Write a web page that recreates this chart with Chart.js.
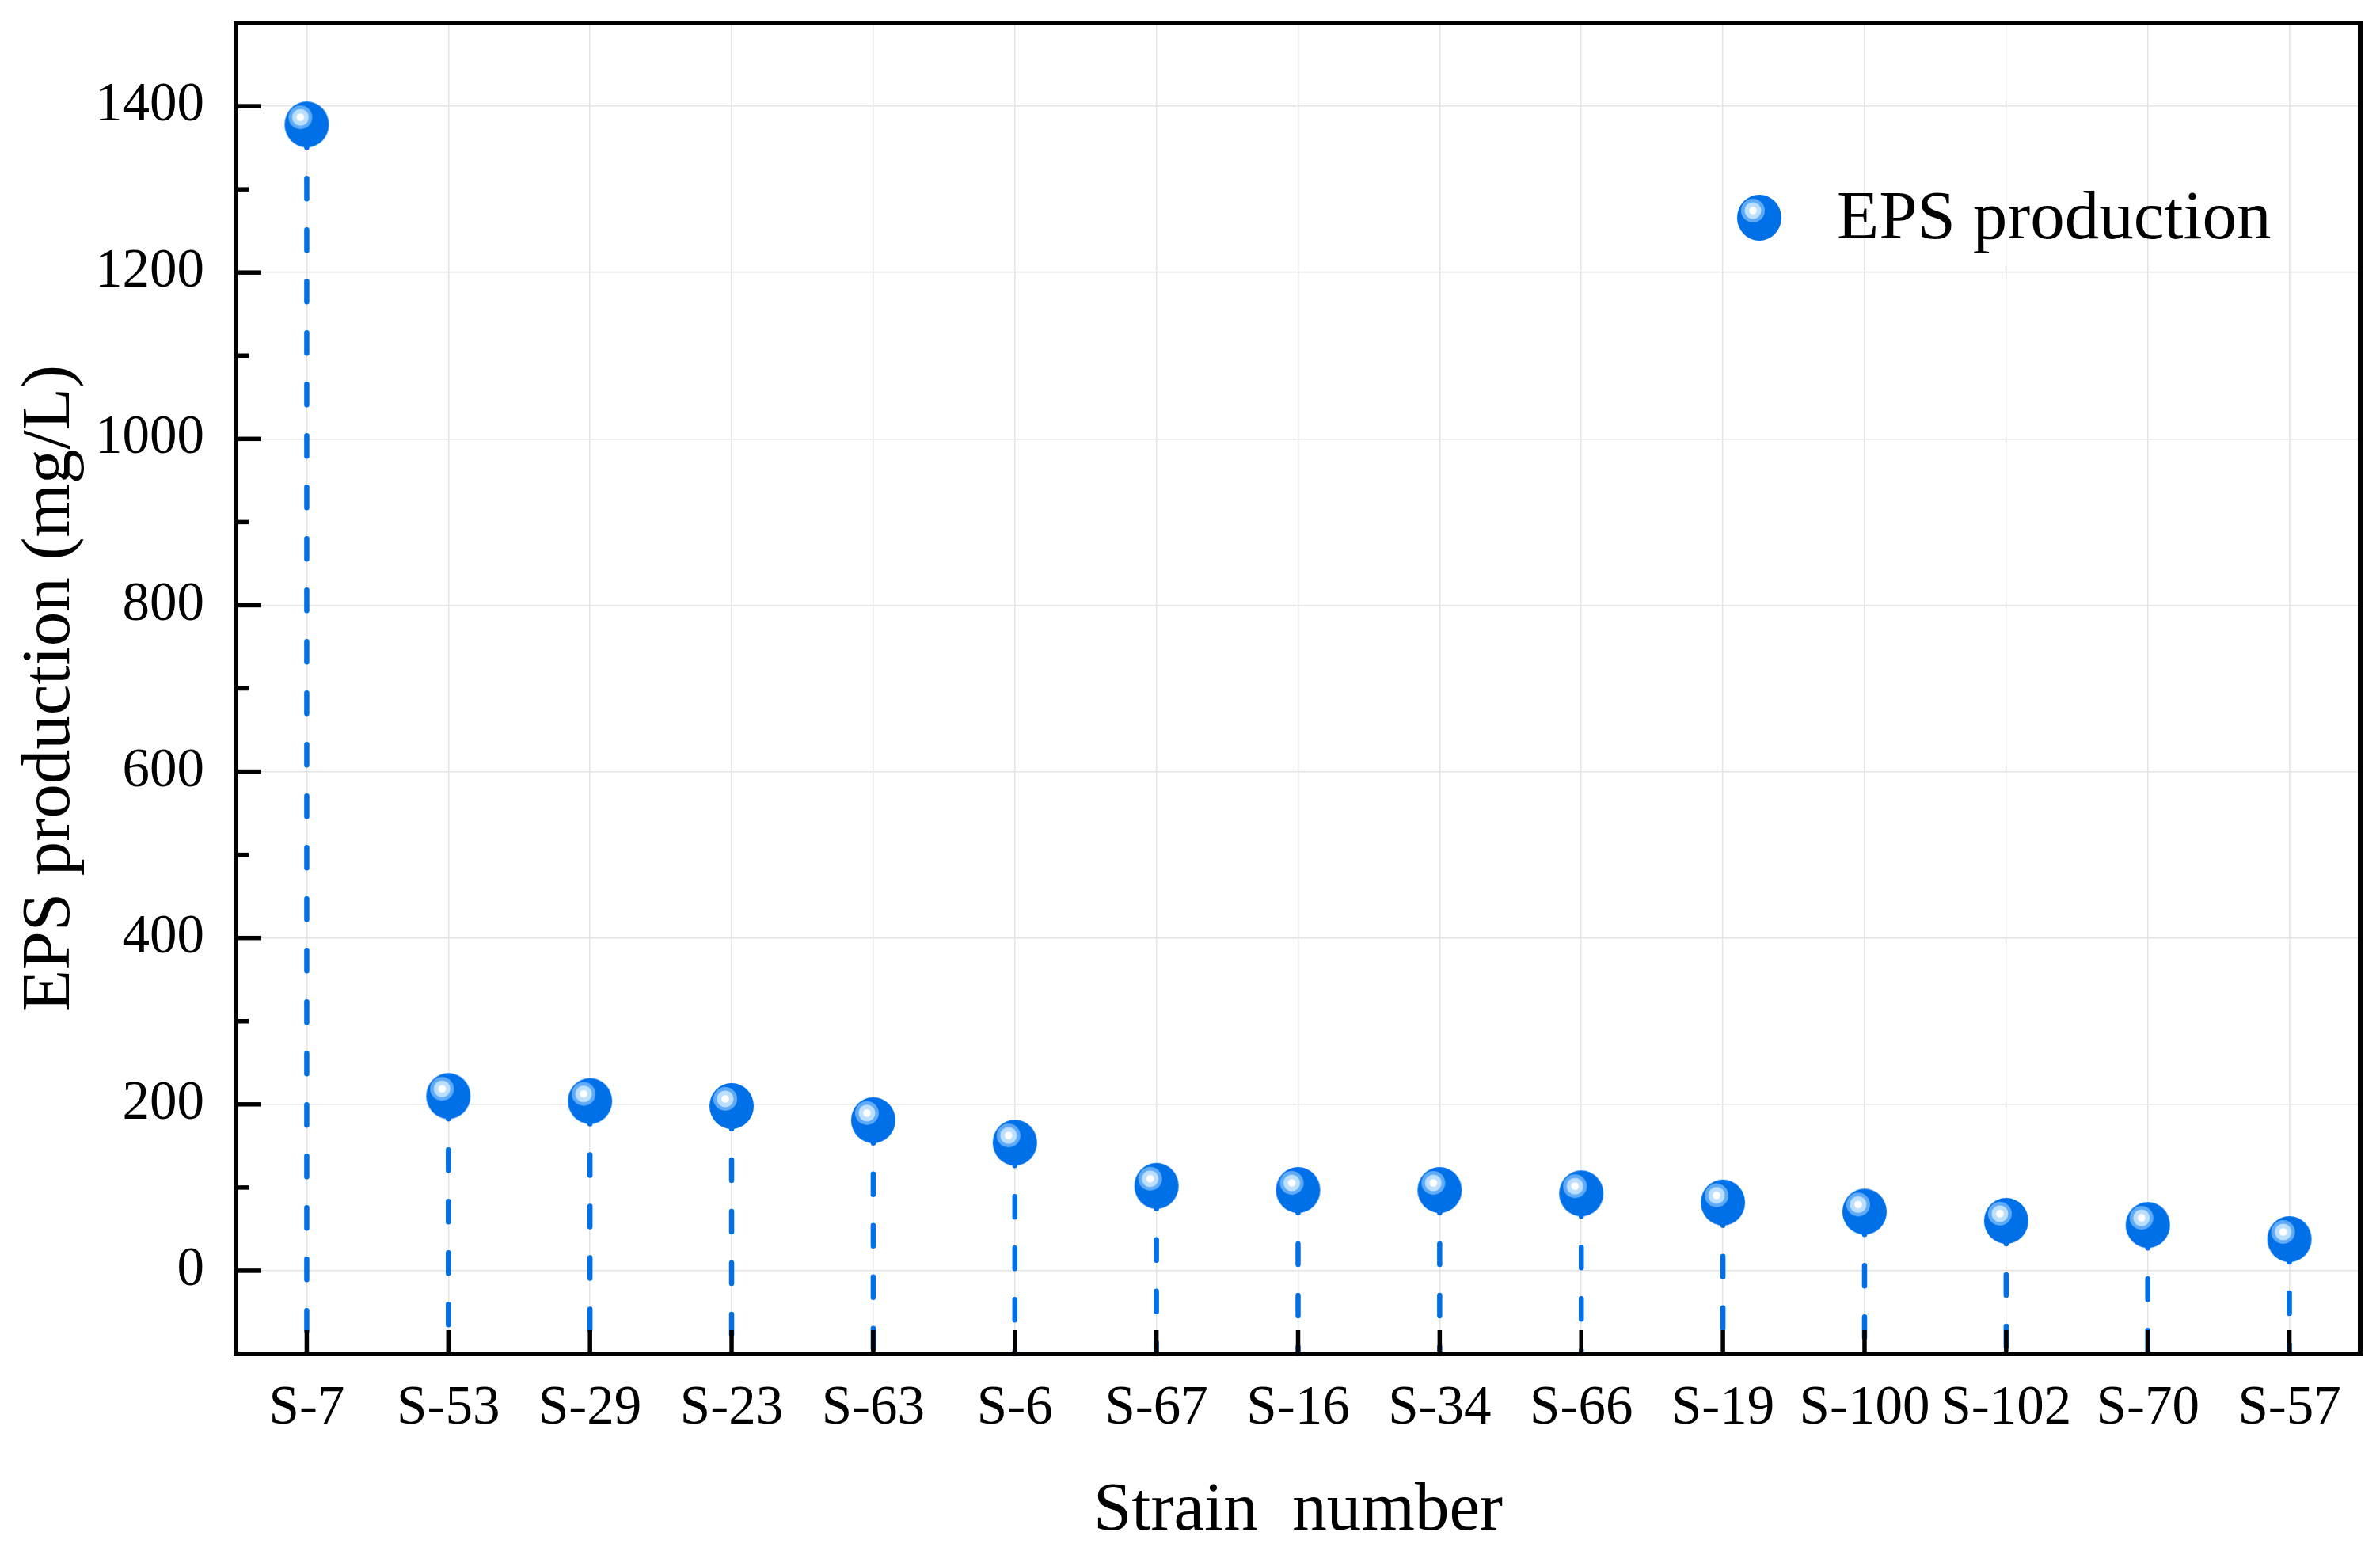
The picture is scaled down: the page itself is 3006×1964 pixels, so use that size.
<!DOCTYPE html>
<html>
<head>
<meta charset="utf-8">
<script src="https://cdn.jsdelivr.net/npm/chart.js@4.4.1/dist/chart.umd.min.js"></script>
<style>
  html, body { margin: 0; padding: 0; background: #ffffff; }
  canvas { display: block; }
</style>
</head>
<body>
<canvas id="epsChart" width="3006" height="1964"></canvas>
<script>
// Data
const strains = ['S-7', 'S-53', 'S-29', 'S-23', 'S-63', 'S-6', 'S-67', 'S-16', 'S-34', 'S-66', 'S-19', 'S-100', 'S-102', 'S-70', 'S-57'];
const epsValues = [1378, 210, 204, 198, 181, 154, 102, 97, 97, 93, 82, 71, 60, 55, 38];
const seriesName = 'EPS production';

const serif = '"Liberation Serif", "Times New Roman", serif';
const blue = '#0070e8';

// Glossy sphere marker, drawn once on a small canvas and reused as pointStyle
function makeSphere() {
  const c = document.createElement('canvas');
  c.width = 58;
  c.height = 60;
  const g = c.getContext('2d');
  const cx = 29, cy = 30;
  g.fillStyle = blue;
  g.beginPath();
  g.ellipse(cx, cy, 28, 29, 0, 0, Math.PI * 2);
  g.fill();
  const hx = cx - 8, hy = cy - 9;
  [[15, '#5fabf7'], [10.5, '#bcdffd'], [4.8, '#ffffff']].forEach(([r, col]) => {
    g.fillStyle = col;
    g.beginPath();
    g.arc(hx, hy, r, 0, Math.PI * 2);
    g.fill();
  });
  return c;
}
const sphere = makeSphere();

// Dashed drop lines from each point down to the bottom axis
const dropLines = {
  id: 'dropLines',
  beforeDatasetsDraw(chart) {
    const ctx = chart.ctx;
    const bottom = chart.chartArea.bottom;
    const meta = chart.getDatasetMeta(0);
    ctx.save();
    ctx.strokeStyle = blue;
    ctx.lineWidth = 6.5;
    ctx.lineCap = 'round';
    ctx.setLineDash([26, 39]);
    ctx.lineDashOffset = -3;
    meta.data.forEach((pt) => {
      ctx.beginPath();
      ctx.moveTo(pt.x, pt.y);
      ctx.lineTo(pt.x, bottom);
      ctx.stroke();
    });
    ctx.restore();
  }
};

// Frame box and inward tick marks
const frameAndTicks = {
  id: 'frameAndTicks',
  afterDatasetsDraw(chart) {
    const ctx = chart.ctx;
    const { left, right, top, bottom } = chart.chartArea;
    const xScale = chart.scales.x;
    const yScale = chart.scales.y;
    ctx.save();
    ctx.strokeStyle = '#000000';
    ctx.lineWidth = 5.5;
    ctx.lineCap = 'butt';

    yScale.ticks.forEach((t) => {
      const y = yScale.getPixelForValue(t.value);
      if (t.value <= yScale.min || t.value >= yScale.max) return;
      const len = t.value % 200 === 0 ? 32 : 16;
      ctx.beginPath();
      ctx.moveTo(left, y);
      ctx.lineTo(left + len, y);
      ctx.stroke();
    });

    strains.forEach((s, i) => {
      const x = xScale.getPixelForValue(i);
      ctx.beginPath();
      ctx.moveTo(x, bottom);
      ctx.lineTo(x, bottom - 30);
      ctx.stroke();
    });

    ctx.lineWidth = 6;
    ctx.strokeRect(left, top, right - left, bottom - top);
    ctx.restore();
  }
};

// Legend inside the plot, top right
const insideLegend = {
  id: 'insideLegend',
  afterDraw(chart) {
    const ctx = chart.ctx;
    const { right, top } = chart.chartArea;
    const mx = right - 759;
    const my = top + 246;
    ctx.save();
    ctx.drawImage(sphere, mx - sphere.width / 2, my - sphere.height / 2);
    ctx.fillStyle = '#000000';
    ctx.font = `87px ${serif}`;
    ctx.textAlign = 'left';
    ctx.textBaseline = 'middle';
    ctx.fillText(seriesName, mx + 98, my + 3);
    ctx.restore();
  }
};

const chartCtx = document.getElementById('epsChart').getContext('2d');
new Chart(chartCtx, {
  type: 'line',
  data: {
    labels: strains,
    datasets: [
      {
        label: seriesName,
        data: epsValues,
        showLine: false,
        pointStyle: sphere,
        pointHoverStyle: sphere,
      },
    ],
  },
  options: {
    responsive: false,
    animation: false,
    devicePixelRatio: 1,
    layout: {
      padding: { top: 29, right: 25, left: 0, bottom: 0 },
    },
    plugins: {
      legend: { display: false },
      tooltip: { enabled: false },
    },
    scales: {
      x: {
        type: 'category',
        offset: true,
        border: { display: false },
        grid: {
          offset: false,
          drawTicks: false,
          color: '#e4e4e4',
          lineWidth: 1.5,
        },
        ticks: {
          autoSkip: false,
          maxRotation: 0,
          minRotation: 0,
          padding: 28,
          color: '#000000',
          font: { family: serif, size: 69 },
        },
        title: {
          display: true,
          text: 'Strain  number',
          color: '#000000',
          font: { family: serif, size: 87 },
          padding: { top: 0, bottom: 3 },
        },
        afterFit(scale) {
          scale.height = 254;
          scale.paddingLeft = 0;
          scale.paddingRight = 0;
        },
      },
      y: {
        min: -100,
        max: 1500,
        border: { display: false },
        grid: {
          drawTicks: false,
          lineWidth: 1.5,
          color: (c) => (c.tick && c.tick.value % 200 === 0 && c.tick.value !== 1500 ? '#e4e4e4' : 'rgba(0,0,0,0)'),
        },
        ticks: {
          stepSize: 100,
          padding: 40,
          labelOffset: 0,
          color: '#000000',
          font: { family: serif, size: 69 },
          callback: (v) => (v % 200 === 0 && v >= 0 && v <= 1400 ? String(v) : ''),
        },
        title: {
          display: true,
          text: 'EPS production (mg/L)',
          color: '#000000',
          font: { family: serif, size: 87 },
          padding: { top: 12, bottom: 0 },
        },
        afterFit(scale) {
          scale.width = 298;
          scale.paddingTop = 0;
          scale.paddingBottom = 0;
        },
      },
    },
  },
  plugins: [dropLines, frameAndTicks, insideLegend],
});
</script>
</body>
</html>
